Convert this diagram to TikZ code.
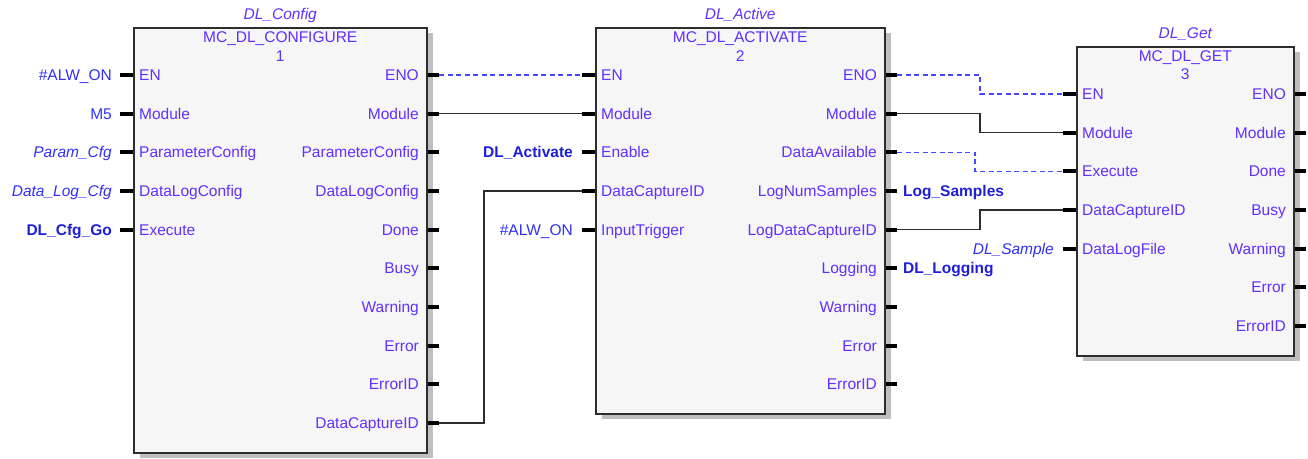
\documentclass[tikz,border=0pt]{standalone}
\usepackage{fontspec}
\setmainfont{Liberation Sans}
\usepackage{tikz}
\usetikzlibrary{positioning, calc, shadows}

\definecolor{pinclr}{RGB}{96,48,255}
\definecolor{varclr}{RGB}{48,48,245}
\definecolor{boldclr}{RGB}{30,30,215}
\definecolor{wireclr}{RGB}{45,45,45}
\definecolor{sigclr}{RGB}{70,70,255}
\definecolor{boxfill}{RGB}{246,246,246}
\newcommand{\fbsize}{\fontsize{15.5}{18}\selectfont}

\tikzset{
  fblock/.style={draw=wireclr, line width=1.5pt, fill=boxfill, anchor=north west,
    drop shadow={shadow xshift=6pt, shadow yshift=-5pt, fill=black!25, opacity=1}},
  txt/.style={inner sep=0pt, text height=11pt, text depth=0pt, text=pinclr, font=\fbsize},
  inst/.style={txt, font=\fbsize\itshape},
  fbtype/.style={txt},
  pinin/.style={txt, anchor=west},
  pinout/.style={txt, anchor=east},
  varl/.style={txt, text=varclr, anchor=east},
  varit/.style={varl, font=\fbsize\itshape},
  varbf/.style={varl, text=boldclr, font=\fbsize\bfseries},
  outbf/.style={txt, text=boldclr, anchor=west, font=\fbsize\bfseries},
  stub/.style={line width=4pt, black},
  wire/.style={line width=1.4pt, wireclr},
  sig/.style={line width=1.3pt, sigclr, dash pattern=on 5pt off 3.5pt}
}

\begin{document}
\begin{tikzpicture}[x=1pt, y=-1pt]
\useasboundingbox (0,0) rectangle (1308,458);

% MC_DL_CONFIGURE
\node[fblock, minimum width=293pt, minimum height=425pt] (cfg) at (133,27) {};
\node[inst] (cfg-inst) at ([yshift=13pt]cfg.north) {DL\_Config};
\node[fbtype] (cfg-type) at ([yshift=-10pt]cfg.north) {MC\_DL\_CONFIGURE};
\node[fbtype] (cfg-num) at ([yshift=-29pt]cfg.north) {1};
\foreach \p [count=\i] in {EN,Module,ParameterConfig,DataLogConfig,Execute}{
  \pgfmathsetmacro{\py}{75+(\i-1)*38.67}
  \coordinate (cfg-in\i) at (120,\py);
  \draw[stub] (cfg-in\i) -- (cfg-in\i -| cfg.west);
  \node[pinin] (cfg-pi\i) at (139,\py) {\p};
}
\foreach \p [count=\i] in {ENO,Module,ParameterConfig,DataLogConfig,Done,Busy,Warning,Error,ErrorID,DataCaptureID}{
  \pgfmathsetmacro{\py}{75+(\i-1)*38.67}
  \coordinate (cfg-out\i) at (439,\py);
  \draw[stub] (cfg-out\i) -- (cfg-out\i -| cfg.east);
  \node[pinout] (cfg-po\i) at (419,\py) {\p};
}
\node[varl] (alw-on1) at ([xshift=-8pt]cfg-in1) {\#ALW\_ON};
\node[varl] (mod-m5) at ([xshift=-8pt]cfg-in2) {M5};
\node[varit] (param-cfg) at ([xshift=-8pt]cfg-in3) {Param\_Cfg};
\node[varit] (log-cfg) at ([xshift=-8pt]cfg-in4) {Data\_Log\_Cfg};
\node[varbf] (cfg-go) at ([xshift=-8pt]cfg-in5) {DL\_Cfg\_Go};

% MC_DL_ACTIVATE
\node[fblock, minimum width=289pt, minimum height=386pt] (act) at (595,27) {};
\node[inst] (act-inst) at ([yshift=13pt]act.north) {DL\_Active};
\node[fbtype] (act-type) at ([yshift=-10pt]act.north) {MC\_DL\_ACTIVATE};
\node[fbtype] (act-num) at ([yshift=-29pt]act.north) {2};
\foreach \p [count=\i] in {EN,Module,Enable,DataCaptureID,InputTrigger}{
  \pgfmathsetmacro{\py}{75+(\i-1)*38.67}
  \coordinate (act-in\i) at (582,\py);
  \draw[stub] (act-in\i) -- (act-in\i -| act.west);
  \node[pinin] (act-pi\i) at (601,\py) {\p};
}
\foreach \p [count=\i] in {ENO,Module,DataAvailable,LogNumSamples,LogDataCaptureID,Logging,Warning,Error,ErrorID}{
  \pgfmathsetmacro{\py}{75+(\i-1)*38.67}
  \coordinate (act-out\i) at (897,\py);
  \draw[stub] (act-out\i) -- (act-out\i -| act.east);
  \node[pinout] (act-po\i) at (877,\py) {\p};
}
\node[varbf] (dl-activate) at ([xshift=-9pt]act-in3) {DL\_Activate};
\node[varl] (alw-on2) at ([xshift=-9pt]act-in5) {\#ALW\_ON};
\node[outbf] (log-samples) at ([xshift=6pt]act-out4) {Log\_Samples};
\node[outbf] (dl-logging) at ([xshift=6pt]act-out6) {DL\_Logging};

% MC_DL_GET
\node[fblock, minimum width=217pt, minimum height=309pt] (get) at (1076,46) {};
\node[inst] (get-inst) at ([yshift=13pt]get.north) {DL\_Get};
\node[fbtype] (get-type) at ([yshift=-10pt]get.north) {MC\_DL\_GET};
\node[fbtype] (get-num) at ([yshift=-28pt]get.north) {3};
\foreach \p [count=\i] in {EN,Module,Execute,DataCaptureID,DataLogFile}{
  \pgfmathsetmacro{\py}{94+(\i-1)*38.67}
  \coordinate (get-in\i) at (1063,\py);
  \draw[stub] (get-in\i) -- (get-in\i -| get.west);
  \node[pinin] (get-pi\i) at (1082,\py) {\p};
}
\foreach \p [count=\i] in {ENO,Module,Done,Busy,Warning,Error,ErrorID}{
  \pgfmathsetmacro{\py}{94+(\i-1)*38.67}
  \coordinate (get-out\i) at (1306,\py);
  \draw[stub] (get-out\i) -- (get-out\i -| get.east);
  \node[pinout] (get-po\i) at (1286,\py) {\p};
}
\node[varit] (dl-sample) at ([xshift=-9pt]get-in5) {DL\_Sample};

% wires
\draw[sig] (cfg-out1) -- (act-in1);
\draw[wire] (cfg-out2) -- (act-in2);
\draw[wire] (cfg-out10) -- ++(45,0) |- (act-in4);
\draw[sig] (act-out1) -- ++(83,0) |- (get-in1);
\draw[wire] (act-out2) -- ++(83,0) |- (get-in2);
\draw[sig] (act-out3) -- ++(78,0) |- (get-in3);
\draw[wire] (act-out5) -- ++(83,0) |- (get-in4);

\end{tikzpicture}
\end{document}
